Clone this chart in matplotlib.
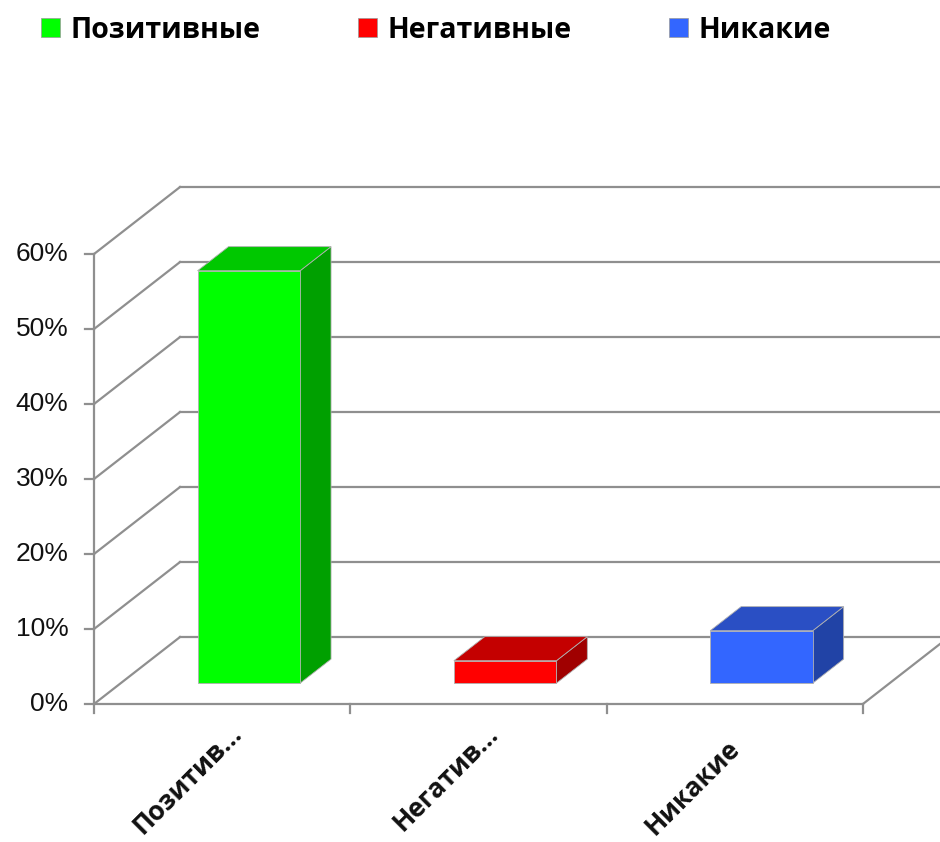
import matplotlib
matplotlib.use("Agg")
import matplotlib.pyplot as plt
from matplotlib.patches import Polygon, Patch

categories = ["Позитивные", "Негативные", "Никакие"]
short_labels = ["Позитив...", "Негатив...", "Никакие"]
values = [55, 3, 7]
ticks = [0, 10, 20, 30, 40, 50, 60]
tick_labels = ["0%", "10%", "20%", "30%", "40%", "50%", "60%"]

front_cols = ["#00ff00", "#ff0000", "#3366ff"]
top_cols = ["#00c800", "#c40000", "#2a4fc4"]
side_cols = ["#00a000", "#a00000", "#2143a6"]

# oblique depth offset (full floor depth) in data units
DX, DY = 0.3355, 8.93
d0, d1 = 0.31, 0.67   # bar depth span
bw = 0.40             # bar width in category units
grid = "#8f8f8f"

fig = plt.figure(figsize=(9.4, 8.42), dpi=100)
ax = fig.add_axes([0, 0, 1, 1])
ax.set_xlim(-0.3668, 3.3008)
ax.set_ylim(-18.4, 93.87)
ax.axis("off")


def P(x, v, d):
    return (x + d * DX, v + d * DY)


# side wall diagonals + back wall lines
for v, lab in zip(ticks, tick_labels):
    a, b = P(0, v, 0), P(0, v, 1)
    ax.plot([a[0], b[0]], [a[1], b[1]], color=grid, lw=1.6, zorder=1)
    c = P(3.2, v, 1)
    ax.plot([b[0], c[0]], [b[1], c[1]], color=grid, lw=1.6, zorder=1)
    ax.plot([-0.035, 0], [v, v], color=grid, lw=1.6, zorder=1)
    ax.text(-0.1, v, lab, ha="right", va="center",
            fontsize=19, family="Liberation Sans", color="#111111")

# front axis and floor
ax.plot([0, 0], [0, 60], color=grid, lw=1.6, zorder=1)
ax.plot([0, 3], [0, 0], color=grid, lw=1.6, zorder=1)
for k in range(4):
    ax.plot([k, k], [0, -1.2], color=grid, lw=1.6, zorder=1)
a, b = P(3, 0, 0), P(3, 0, 1)
ax.plot([a[0], b[0]], [a[1], b[1]], color=grid, lw=1.6, zorder=1)

# bars
for i, val in enumerate(values):
    x0 = i + (1 - bw) / 2
    x1 = x0 + bw
    front = [P(x0, 0, d0), P(x1, 0, d0), P(x1, val, d0), P(x0, val, d0)]
    top = [P(x0, val, d0), P(x1, val, d0), P(x1, val, d1), P(x0, val, d1)]
    side = [P(x1, 0, d0), P(x1, 0, d1), P(x1, val, d1), P(x1, val, d0)]
    for pts, c in [(side, side_cols[i]), (top, top_cols[i]), (front, front_cols[i])]:
        ax.add_patch(Polygon(pts, closed=True, facecolor=c, edgecolor="#b0b0b0",
                             lw=0.6, zorder=3))

# category labels (short, unclipped label sits a bit lower)
for i, lab in enumerate(short_labels):
    nudge = 0 if lab.endswith("...") else 1
    ax.text(i + 0.56 - 0.055 * nudge, -3.4 - 2.0 * nudge, lab, rotation=45,
            rotation_mode="anchor", ha="right", va="center", fontsize=19,
            fontweight="bold", family="Open Sans", color="#111111")

handles = [Patch(facecolor=c, edgecolor="#999999", lw=0.5) for c in front_cols]
fig.legend(handles, categories, loc="upper left", bbox_to_anchor=(0.016, 1.012),
           ncol=3, frameon=False, handlelength=0.68, handleheight=0.68,
           handletextpad=0.38, columnspacing=3.4,
           prop={"family": "Open Sans", "weight": "bold", "size": 20.5})

fig.savefig("out.png", dpi=100)
